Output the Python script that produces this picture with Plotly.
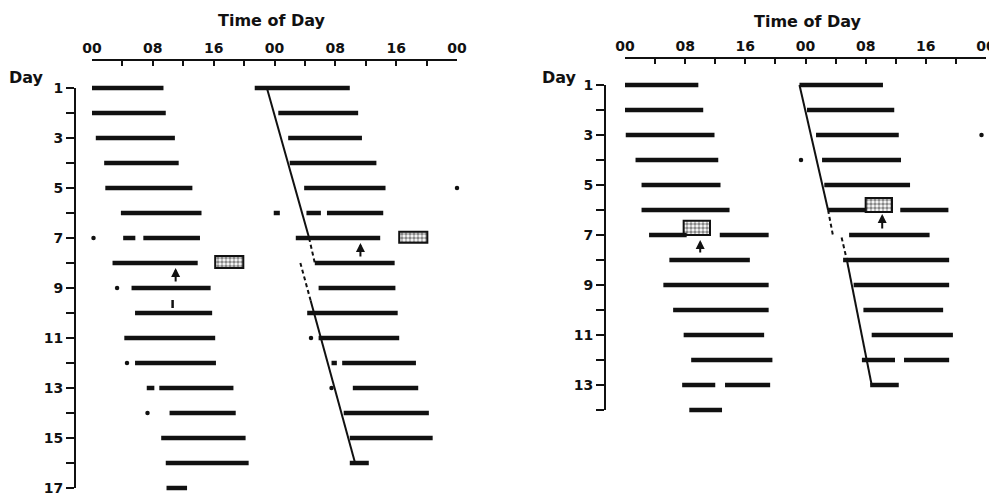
import plotly.graph_objects as go

# The page body adds an 8 px margin, so the figure is 8 px smaller than the window
OFF = 8
W, H = 997 - OFF, 496 - OFF

# ---------------- data (hours on a 0-48 h double-plot scale, day rows) ----------------
time_tickvals = list(range(0, 49, 4))
time_ticktext = ["00", "", "08", "", "16", "", "00", "", "08", "", "16", "", "00"]

# Left actogram: activity bouts
left_day = [1, 1, 2, 2, 3, 3, 4, 4, 5, 5,
            6, 6, 6, 6, 7, 7, 7, 8, 8, 9, 9,
            10, 10, 11, 11, 12, 12, 12, 13, 13, 13,
            14, 14, 15, 15, 16, 16, 17]
left_start = [0.0, 21.4, 0.0, 24.5, 0.5, 25.8, 1.6, 26.0, 1.75, 27.9,
              3.8, 23.9, 28.2, 30.9, 4.1, 6.75, 26.8, 2.7, 29.3, 5.2, 29.8,
              5.66, 28.3, 4.25, 29.8, 5.66, 31.5, 32.9, 7.2, 8.85, 34.3,
              10.2, 33.1, 9.1, 33.9, 9.7, 33.9, 9.8]
left_end = [9.4, 33.9, 9.7, 35.0, 10.9, 35.5, 11.4, 37.4, 13.2, 38.6,
            14.4, 24.7, 30.1, 38.3, 5.7, 14.2, 37.9, 13.9, 39.8, 15.6, 39.9,
            15.8, 40.2, 16.2, 40.4, 16.3, 32.2, 42.6, 8.2, 18.6, 42.9,
            18.9, 44.3, 20.2, 44.8, 20.6, 36.4, 12.5]
left_dot_day = [5, 7, 9, 11, 12, 13, 14]
left_dot_hour = [48.0, 0.2, 3.3, 28.8, 4.6, 31.5, 7.3]
# light pulses (stippled boxes)
left_box_start = [16.2, 40.4]
left_box_end = [19.9, 44.1]
left_box_top = [7.72, 6.75]
left_box_bottom = [8.2, 7.19]
# arrows (hour, from day, to day)
left_arrow_hour = [11.0, 35.3]
left_arrow_from = [8.8, 7.8]
left_arrow_to = [8.2, 7.2]
# fitted onset lines
left_solid_lines = [[(23.0, 1), (28.55, 7)], [(28.75, 9.5), (34.6, 16)]]
left_dashed_lines = [[(28.55, 7), (29.3, 8)], [(27.4, 8), (28.75, 9.5)]]
left_mark = [(10.6, 9.48), (10.6, 9.8)]

# Right actogram
right_day = [1, 1, 2, 2, 3, 3, 4, 4, 5, 5,
             6, 6, 6, 7, 7, 7, 8, 8, 9, 9,
             10, 10, 11, 11, 12, 12, 12, 13, 13, 13, 14]
right_start = [0.0, 23.2, 0.0, 24.2, 0.1, 25.4, 1.4, 26.2, 2.2, 26.5,
               2.2, 27.0, 36.6, 3.2, 12.6, 29.8, 5.9, 29.0, 5.1, 30.4,
               6.4, 31.7, 7.8, 32.8, 8.8, 31.5, 37.1, 7.6, 13.3, 32.6, 8.55]
right_end = [9.75, 34.3, 10.4, 35.8, 11.9, 36.4, 12.4, 36.7, 12.7, 37.9,
             13.9, 32.1, 43.0, 8.2, 19.1, 40.5, 16.6, 43.1, 19.1, 43.1,
             19.1, 42.3, 18.5, 43.6, 19.6, 35.9, 43.1, 12.0, 19.3, 36.4, 12.9]
right_dot_day = [3, 4]
right_dot_hour = [47.4, 23.4]
right_box_start = [32.0, 7.8]
right_box_end = [35.5, 11.3]
right_box_top = [5.52, 6.43]
right_box_bottom = [6.08, 7.0]
right_arrow_hour = [34.2, 10.0]
right_arrow_from = [6.8, 7.76]
right_arrow_to = [6.16, 7.2]
right_solid_lines = [[(23.2, 1), (27.0, 6)], [(29.5, 8), (32.8, 13)]]
right_dashed_lines = [[(27.0, 6), (27.7, 7.1)], [(28.8, 7.1), (29.5, 8)]]

left_days = list(range(1, 18))
right_days = list(range(1, 15))

FONT = "DejaVu Sans"
INK = "#111111"

fig = go.Figure()


def seg_xy(days, starts, ends):
    xs, ys = [], []
    for d, s, e in zip(days, starts, ends):
        xs += [s, e, None]
        ys += [d, d, None]
    return xs, ys


def lines_xy(lines):
    xs, ys = [], []
    for ln in lines:
        for (x, y) in ln:
            xs.append(x)
            ys.append(y)
        xs.append(None)
        ys.append(None)
    return xs, ys


def add_panel(xa, ya, yaxis_vis, days, starts, ends, dday, dhour, bs, be, bt, bb,
              ah, af, at, solid, dashed, extra=None):
    # invisible anchor trace so the visible day axis is drawn
    fig.add_trace(go.Scatter(x=[0], y=[1], mode="markers", xaxis=xa, yaxis=yaxis_vis,
                             marker=dict(size=1, opacity=0), hoverinfo="skip",
                             showlegend=False))
    xs, ys = seg_xy(days, starts, ends)
    fig.add_trace(go.Scatter(x=xs, y=ys, mode="lines", xaxis=xa, yaxis=ya,
                             line=dict(color=INK, width=4.5), cliponaxis=False,
                             hoverinfo="skip", showlegend=False))
    fig.add_trace(go.Scatter(x=dhour, y=dday, mode="markers", xaxis=xa, yaxis=ya,
                             marker=dict(color=INK, size=4.5), cliponaxis=False,
                             hoverinfo="skip", showlegend=False))
    sx, sy = lines_xy(solid)
    fig.add_trace(go.Scatter(x=sx, y=sy, mode="lines", xaxis=xa, yaxis=ya,
                             line=dict(color=INK, width=2), cliponaxis=False,
                             hoverinfo="skip", showlegend=False))
    dx, dy = lines_xy(dashed)
    fig.add_trace(go.Scatter(x=dx, y=dy, mode="lines", xaxis=xa, yaxis=ya,
                             line=dict(color=INK, width=2, dash="4px,3px"), cliponaxis=False,
                             hoverinfo="skip", showlegend=False))
    if extra:
        fig.add_trace(go.Scatter(x=[p[0] for p in extra], y=[p[1] for p in extra],
                                 mode="lines", xaxis=xa, yaxis=ya,
                                 line=dict(color=INK, width=2.5), cliponaxis=False,
                                 hoverinfo="skip", showlegend=False))
    # stippled light-pulse boxes
    fig.add_trace(go.Bar(orientation="h", base=bs,
                         x=[e - s for s, e in zip(bs, be)],
                         y=[(t + b) / 2 for t, b in zip(bt, bb)],
                         width=[b - t for t, b in zip(bt, bb)],
                         xaxis=xa, yaxis=ya,
                         marker=dict(color="white", line=dict(color=INK, width=2),
                                     pattern=dict(shape=".", fgcolor=INK, bgcolor="white",
                                                  size=4, solidity=0.6)),
                         hoverinfo="skip", showlegend=False))
    for h, f, t in zip(ah, af, at):
        fig.add_annotation(x=h, y=t, ax=h, ay=f, xref=xa, yref=ya,
                           axref=xa, ayref=ya, text="", showarrow=True,
                           arrowhead=2, arrowsize=0.9, arrowwidth=2, arrowcolor=INK)


add_panel("x", "y", "y3", left_day, left_start, left_end, left_dot_day, left_dot_hour,
          left_box_start, left_box_end, left_box_top, left_box_bottom,
          left_arrow_hour, left_arrow_from, left_arrow_to,
          left_solid_lines, left_dashed_lines, extra=left_mark)
add_panel("x2", "y2", "y4", right_day, right_start, right_end, right_dot_day, right_dot_hour,
          right_box_start, right_box_end, right_box_top, right_box_bottom,
          right_arrow_hour, right_arrow_from, right_arrow_to,
          right_solid_lines, right_dashed_lines)


def px(v):
    return (v - OFF) / W


def py(v):
    return 1 - (v - OFF) / H


tickfont = dict(family=FONT, size=14, color=INK, weight="bold")
xcommon = dict(range=[0, 48], side="top", anchor="free", showline=True, linecolor=INK,
               linewidth=2, ticks="inside", ticklen=5, tickwidth=1.5, tickcolor=INK,
               tickvals=time_tickvals, ticktext=time_ticktext, tickfont=tickfont,
               showgrid=False, zeroline=False, fixedrange=True, automargin=False)
ydata = dict(visible=False, anchor="free", showgrid=False, zeroline=False,
             fixedrange=True, automargin=False)
yvis = dict(anchor="free", showline=True, linecolor=INK, linewidth=2, ticks="outside",
            ticklen=8, tickwidth=1.5, tickcolor=INK, tickfont=tickfont,
            showgrid=False, zeroline=False, fixedrange=True, automargin=False)

PXDAY = 25.0
l_top, l_bot = 60, 496
r_top, r_bot = 58, 496
l_rng = [1 + (l_bot - 88) / PXDAY, 1 - (88 - l_top) / PXDAY]
r_rng = [1 + (r_bot - 85) / PXDAY, 1 - (85 - r_top) / PXDAY]

fig.update_layout(
    width=W, height=H, margin=dict(l=0, r=0, t=0, b=0, pad=0, autoexpand=False),
    paper_bgcolor="white", plot_bgcolor="rgba(0,0,0,0)", barmode="overlay",
    showlegend=False,
    xaxis=dict(domain=[px(92), px(457)], position=py(60), **xcommon),
    yaxis=dict(domain=[py(l_bot), py(l_top)], range=l_rng, position=px(92), **ydata),
    yaxis3=dict(domain=[py(488), py(88)], range=[17, 1], position=px(75),
                tickvals=left_days,
                ticktext=[str(d) if d % 2 == 1 else "" for d in left_days], **yvis),
    xaxis2=dict(domain=[px(625), px(986)], position=py(58), **xcommon),
    yaxis2=dict(domain=[py(r_bot), py(r_top)], range=r_rng, position=px(625), **ydata),
    yaxis4=dict(domain=[py(410), py(85)], range=[14, 1], position=px(605),
                tickvals=right_days,
                ticktext=[str(d) if d % 2 == 1 else "" for d in right_days], **yvis),
)

titlefont = dict(family=FONT, size=16, color=INK, weight="bold")
for txt, x, y in [("Time of Day", 272, 20), ("Time of Day", 808, 21),
                  ("Day", 26, 77), ("Day", 559, 77)]:
    fig.add_annotation(text=txt, x=px(x), y=py(y), xref="paper", yref="paper",
                       showarrow=False, font=titlefont, xanchor="center", yanchor="middle")

fig.write_html("out.html")
